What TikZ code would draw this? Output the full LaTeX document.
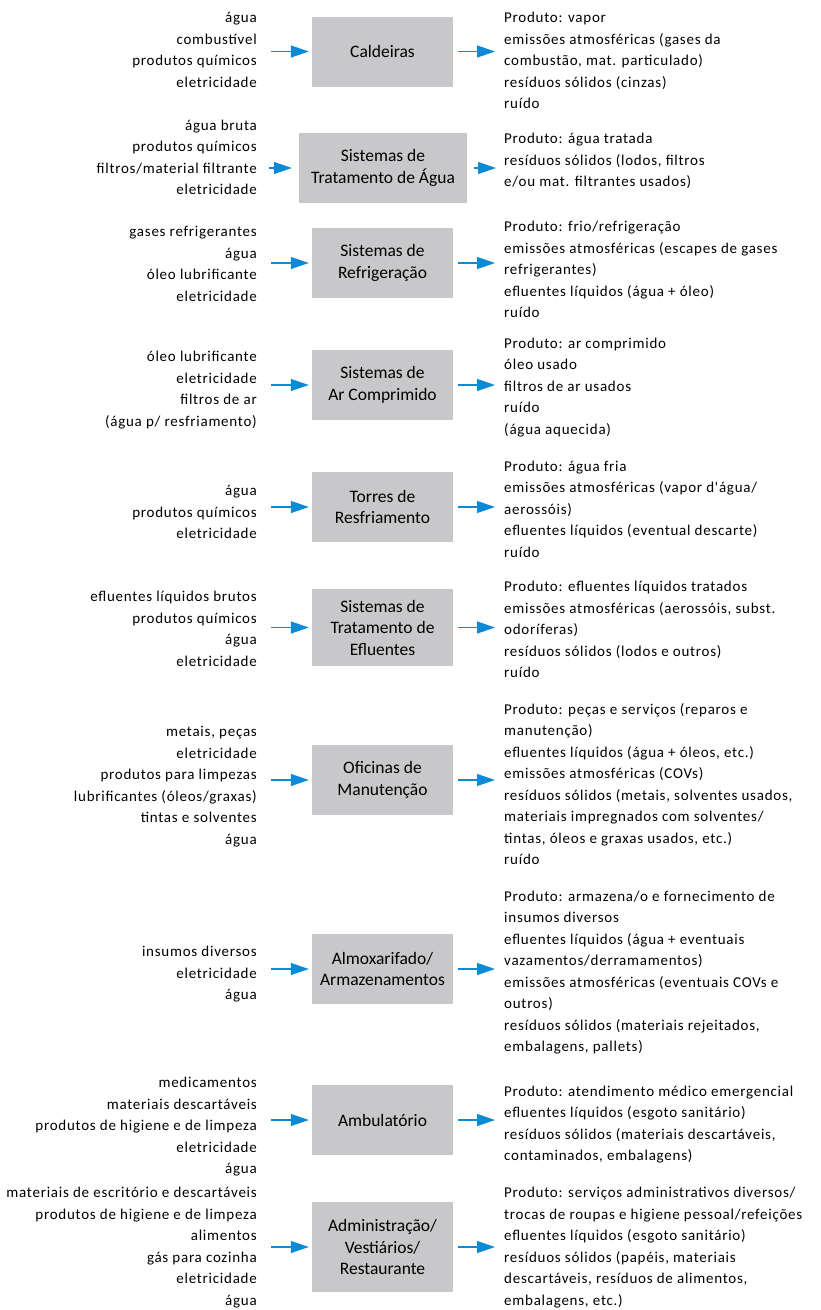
\documentclass[tikz,border=0pt]{standalone}
\usepackage{fontspec}
\setmainfont{Carlito}
\newfontfamily\listfont[LetterSpace=5]{Carlito}
\usepackage{tikz}
\usetikzlibrary
  {
    arrows.meta,              % triangle arrow heads
  }

\definecolor{flowblue}{RGB}{12,138,214}
\definecolor{boxgray}{RGB}{200,200,202}

\begin{document}
\begin{tikzpicture}
    [
      x=1pt, y=-1pt,
      unit/.style=
        {
          rectangle,
          fill=boxgray,
          minimum width=141pt,
          minimum height=70pt,
          inner sep=2pt,
          align=center,
          font=\fontsize{17.5}{21.5}\selectfont,
        },
      inputs/.style=
        {
          anchor=north east,
          align=right,
          inner sep=0pt,
          font=\listfont\fontsize{15}{21.5}\selectfont,
          execute at begin node=\strut,
        },
      outputs/.style=
        {
          anchor=north west,
          align=left,
          inner sep=0pt,
          font=\listfont\fontsize{15}{21.5}\selectfont,
          execute at begin node=\strut,
        },
      flow/.style=
        {
          draw=flowblue,
          line width=1.2pt,
          -{Triangle[length=18pt,width=12pt]},
        },
    ]
    \useasboundingbox (0,0) rectangle (821,1310);

    % process units
    \node[unit] (caldeiras) at (382.5,51.5)  {Caldeiras};
    \node[unit, minimum width=168pt]
                (agua)      at (383,168)     {Sistemas de\\Tratamento de Água};
    \node[unit] (refrig)    at (382.5,263)   {Sistemas de\\Refrigeração};
    \node[unit] (ar)        at (382.5,385)   {Sistemas de\\Ar Comprimido};
    \node[unit] (torres)    at (382.5,507)   {Torres de\\Resfriamento};
    \node[unit, minimum height=77pt]
                (efluentes) at (382.5,627.5) {Sistemas de\\Tratamento de\\Efluentes};
    \node[unit] (oficinas)  at (382.5,780)   {Oficinas de\\Manutenção};
    \node[unit] (almox)     at (382.5,969)   {Almoxarifado/\\Armazenamentos};
    \node[unit] (ambul)     at (382.5,1120)  {Ambulatório};
    \node[unit, minimum height=90pt]
                (admin)     at (382.5,1247)  {Administração/\\Vestiários/\\Restaurante};

    % inputs
    \node[inputs] (caldeiras-in) at (257,12.2)
      {água\\combustível\\produtos químicos\\eletricidade};
    \node[inputs] (agua-in) at (257,119.8)
      {água bruta\\produtos químicos\\filtros/material filtrante\\eletricidade};
    \node[inputs] (refrig-in) at (257,226.2)
      {gases refrigerantes\\água\\óleo lubrificante\\eletricidade};
    \node[inputs] (ar-in) at (257,351.2)
      {óleo lubrificante\\eletricidade\\filtros de ar\\(água p/ resfriamento)};
    \node[inputs] (torres-in) at (257,485.5)
      {água\\produtos químicos\\eletricidade};
    \node[inputs] (efluentes-in) at (257,591.2)
      {efluentes líquidos brutos\\produtos químicos\\água\\eletricidade};
    \node[inputs] (oficinas-in) at (257,726.2)
      {metais, peças\\eletricidade\\produtos para limpezas\\lubrificantes (óleos/graxas)\\tintas e solventes\\água};
    \node[inputs] (almox-in) at (257,946.2)
      {insumos diversos\\eletricidade\\água};
    \node[inputs] (ambul-in) at (257,1077.2)
      {medicamentos\\materiais descartáveis\\produtos de higiene e de limpeza\\eletricidade\\água};
    \node[inputs] (admin-in) at (257,1187.2)
      {materiais de escritório e descartáveis\\produtos de higiene e de limpeza\\alimentos\\gás para cozinha\\eletricidade\\água};

    % outputs
    \node[outputs] (caldeiras-out) at (504,12.2)
      {Produto: vapor\\emissões atmosféricas (gases da\\combustão, mat. particulado)\\resíduos sólidos (cinzas)\\ruído};
    \node[outputs] (agua-out) at (504,133.2)
      {Produto: água tratada\\resíduos sólidos (lodos, filtros\\e/ou mat. filtrantes usados)};
    \node[outputs] (refrig-out) at (504,221.2)
      {Produto: frio/refrigeração\\emissões atmosféricas (escapes de gases\\refrigerantes)\\efluentes líquidos (água + óleo)\\ruído};
    \node[outputs] (ar-out) at (504,337.8)
      {Produto: ar comprimido\\óleo usado\\filtros de ar usados\\ruído\\(água aquecida)};
    \node[outputs] (torres-out) at (504,460.5)
      {Produto: água fria\\emissões atmosféricas (vapor d'água/\\aerossóis)\\efluentes líquidos (eventual descarte)\\ruído};
    \node[outputs] (efluentes-out) at (504,581.2)
      {Produto: efluentes líquidos tratados\\emissões atmosféricas (aerossóis, subst.\\odoríferas)\\resíduos sólidos (lodos e outros)\\ruído};
    \node[outputs] (oficinas-out) at (504,703.2)
      {Produto: peças e serviços (reparos e\\manutenção)\\efluentes líquidos (água + óleos, etc.)\\emissões atmosféricas (COVs)\\resíduos sólidos (metais, solventes usados,\\materiais impregnados com solventes/\\tintas, óleos e graxas usados, etc.)\\ruído};
    \node[outputs] (almox-out) at (504,890.5)
      {Produto: armazena/o e fornecimento de\\insumos diversos\\efluentes líquidos (água + eventuais\\vazamentos/derramamentos)\\emissões atmosféricas (eventuais COVs e\\outros)\\resíduos sólidos (materiais rejeitados,\\embalagens, pallets)};
    \node[outputs] (ambul-out) at (504,1085.5)
      {Produto: atendimento médico emergencial\\efluentes líquidos (esgoto sanitário)\\resíduos sólidos (materiais descartáveis,\\contaminados, embalagens)};
    \node[outputs] (admin-out) at (504,1187.2)
      {Produto: serviços administrativos diversos/\\trocas de roupas e higiene pessoal/refeições\\efluentes líquidos (esgoto sanitário)\\resíduos sólidos (papéis, materiais\\descartáveis, resíduos de alimentos,\\embalagens, etc.)};

    % arrows in and out
    \draw[flow, shorten <=14pt, shorten >=3pt] (caldeiras-in.east |- caldeiras.west) -- (caldeiras.west);
    \draw[flow, shorten <=5pt, shorten >=9pt] (caldeiras.east) -- (caldeiras-out.west |- caldeiras.east);
    \draw[flow, shorten <=12pt, shorten >=7pt] (agua-in.east |- agua.west) -- (agua.west);
    \draw[flow, shorten <=7pt, shorten >=8pt] (agua.east) -- (agua-out.west |- agua.east);
    \draw[flow, shorten <=14pt, shorten >=3pt] (refrig-in.east |- refrig.west) -- (refrig.west);
    \draw[flow, shorten <=5pt, shorten >=9pt] (refrig.east) -- (refrig-out.west |- refrig.east);
    \draw[flow, shorten <=14pt, shorten >=3pt] (ar-in.east |- ar.west) -- (ar.west);
    \draw[flow, shorten <=5pt, shorten >=9pt] (ar.east) -- (ar-out.west |- ar.east);
    \draw[flow, shorten <=14pt, shorten >=3pt] (torres-in.east |- torres.west) -- (torres.west);
    \draw[flow, shorten <=5pt, shorten >=9pt] (torres.east) -- (torres-out.west |- torres.east);
    \draw[flow, shorten <=14pt, shorten >=3pt] (efluentes-in.east |- efluentes.west) -- (efluentes.west);
    \draw[flow, shorten <=5pt, shorten >=9pt] (efluentes.east) -- (efluentes-out.west |- efluentes.east);
    \draw[flow, shorten <=14pt, shorten >=3pt] (oficinas-in.east |- oficinas.west) -- (oficinas.west);
    \draw[flow, shorten <=5pt, shorten >=9pt] (oficinas.east) -- (oficinas-out.west |- oficinas.east);
    \draw[flow, shorten <=14pt, shorten >=3pt] (almox-in.east |- almox.west) -- (almox.west);
    \draw[flow, shorten <=5pt, shorten >=9pt] (almox.east) -- (almox-out.west |- almox.east);
    \draw[flow, shorten <=14pt, shorten >=3pt] (ambul-in.east |- ambul.west) -- (ambul.west);
    \draw[flow, shorten <=5pt, shorten >=9pt] (ambul.east) -- (ambul-out.west |- ambul.east);
    \draw[flow, shorten <=14pt, shorten >=3pt] (admin-in.east |- admin.west) -- (admin.west);
    \draw[flow, shorten <=5pt, shorten >=9pt] (admin.east) -- (admin-out.west |- admin.east);
\end{tikzpicture}
\end{document}
